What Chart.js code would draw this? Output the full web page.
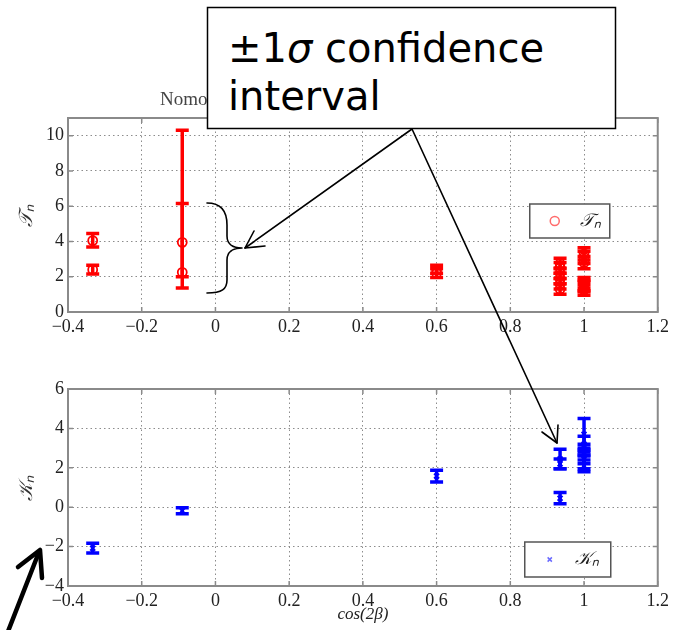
<!DOCTYPE html>
<html>
<head>
<meta charset="utf-8">
<script src="https://cdn.jsdelivr.net/npm/chart.js@4.4.0/dist/chart.umd.min.js"></script>
<style>
  body { margin: 0; background: #fff; }
  #wrap { position: relative; width: 673px; height: 630px; overflow: hidden; }
  #top, #bottom { position: absolute; left: 0; }
  #top { top: 80px; }
  #bottom { top: 345px; }
  #note { position: absolute; left: 0; top: 0; }
</style>
</head>
<body>
<div id="wrap">
  <canvas id="top" width="673" height="265"></canvas>
  <canvas id="bottom" width="673" height="285"></canvas>
  <svg id="note" width="673" height="630" viewBox="0 0 673 630">
    <g fill="none" stroke="#000" stroke-width="1.6" stroke-linecap="round" stroke-linejoin="round">
      <path d="M207,203 C222,203 227,212 227,225 L227,236 C227,244 233,248 242,248 C233,248 227,252 227,260 L227,280 C227,289 222,293 207,293"/>
      <line x1="412" y1="129" x2="245" y2="248"/>
      <polyline points="254,231 245,248 265,246"/>
      <line x1="412" y1="129" x2="557" y2="443"/>
      <polyline points="542,432 557,443 558,425"/>
    </g>
    <g fill="none" stroke="#000" stroke-width="4.5" stroke-linecap="round" stroke-linejoin="round">
      <line x1="7" y1="634" x2="39" y2="552"/>
      <polyline points="18,567 40,550 42,578"/>
    </g>
    <rect x="207.5" y="7.5" width="408" height="121" fill="#fff" stroke="#000" stroke-width="1.5"/>
    <text font-family="DejaVu Sans" font-size="40" fill="#000">
      <tspan x="228" y="62">±1<tspan font-style="italic">σ</tspan> confidence</tspan>
      <tspan x="228" y="110">interval</tspan>
    </text>
  </svg>
</div>
<script>
// ticks
const xTicks = [-0.4, -0.2, 0, 0.2, 0.4, 0.6, 0.8, 1, 1.2];
const tTicks = [0, 2, 4, 6, 8, 10];
const kTicks = [-4, -2, 0, 2, 4, 6];

// T_n with its +-1 sigma interval (low / high)
const tX    = [-0.333, -0.333, -0.09, -0.09, 0.6, 0.6,
               0.935, 0.935, 0.935, 0.935, 0.935, 0.935,
               1, 1, 1, 1, 1, 1, 1];
const tMean = [4.05, 2.4, 3.95, 2.25, 2.2, 2.4,
               1.3, 1.6, 1.9, 2.2, 2.5, 2.75,
               2.8, 3.1, 3.3, 1.25, 1.45, 1.65, 1.5];
const tLow  = [3.68, 2.15, 2.0, 1.36, 1.95, 2.2,
               1.0, 1.3, 1.6, 1.9, 2.2, 2.45,
               2.45, 2.75, 2.95, 0.95, 1.15, 1.35, 1.2];
const tHigh = [4.45, 2.65, 10.3, 6.15, 2.45, 2.65,
               1.6, 1.9, 2.2, 2.5, 2.8, 3.05,
               3.15, 3.45, 3.65, 1.55, 1.75, 1.95, 1.8];

// K_n with its +-1 sigma interval
const kX    = [-0.333, -0.09, 0.6, 0.935, 0.935, 0.935, 1, 1, 1, 1, 1, 1];
const kMean = [-2.08, -0.18, 1.58, 0.45, 2.2, 2.45, 3.7, 3.2, 2.9, 2.6, 2.3, 2.1];
const kLow  = [-2.33, -0.33, 1.28, 0.17, 1.95, 1.95, 2.9, 2.8, 2.6, 2.2, 1.95, 1.8];
const kHigh = [-1.83, -0.03, 1.88, 0.74, 2.45, 2.94, 4.5, 3.6, 3.2, 3.0, 2.65, 2.4];

const serif = 'Liberation Serif';

const errorBars = {
  id: 'errorBars',
  beforeDatasetsDraw(chart) {
    const {ctx, chartArea: a, scales: {x, y}} = chart;
    ctx.save();
    ctx.beginPath();
    ctx.rect(a.left, a.top, a.width, a.height);
    ctx.clip();
    chart.data.datasets.forEach(ds => {
      ctx.strokeStyle = ds.borderColor;
      ctx.lineWidth = 3.5;
      ds.data.forEach((p, i) => {
        const px = x.getPixelForValue(p.x);
        const lo = y.getPixelForValue(ds.low[i]);
        const hi = y.getPixelForValue(ds.high[i]);
        ctx.beginPath();
        ctx.moveTo(px, lo); ctx.lineTo(px, hi);
        ctx.moveTo(px - 6.5, lo); ctx.lineTo(px + 6.5, lo);
        ctx.moveTo(px - 6.5, hi); ctx.lineTo(px + 6.5, hi);
        ctx.stroke();
      });
    });
    ctx.restore();
  }
};

// matlab style box with inner tick marks
const frame = {
  id: 'frame',
  beforeDatasetsDraw(chart) {
    const {ctx, chartArea: a, scales: {x, y}} = chart;
    ctx.save();
    ctx.strokeStyle = '#8a8a8a';
    ctx.lineWidth = 2;
    ctx.strokeRect(a.left, a.top, a.width, a.height);
    ctx.lineWidth = 1.5;
    ctx.beginPath();
    x.ticks.forEach(t => {
      const px = x.getPixelForValue(t.value);
      ctx.moveTo(px, a.bottom); ctx.lineTo(px, a.bottom - 5);
      ctx.moveTo(px, a.top); ctx.lineTo(px, a.top + 5);
    });
    y.ticks.forEach(t => {
      const py = y.getPixelForValue(t.value);
      ctx.moveTo(a.left, py); ctx.lineTo(a.left + 5, py);
      ctx.moveTo(a.right, py); ctx.lineTo(a.right - 5, py);
    });
    ctx.stroke();
    ctx.restore();
  }
};

const boxLegend = {
  id: 'boxLegend',
  afterDatasetsDraw(chart, args, opts) {
    if (!opts.w) return;
    const {ctx, chartArea: a} = chart;
    const ds = chart.data.datasets[0];
    const bx = a.right - opts.right - opts.w;
    const by = opts.top != null ? a.top + opts.top : a.bottom - opts.bottom - opts.h;
    ctx.save();
    ctx.fillStyle = '#fff';
    ctx.fillRect(bx, by, opts.w, opts.h);
    ctx.strokeStyle = '#555';
    ctx.lineWidth = 1.5;
    ctx.strokeRect(bx, by, opts.w, opts.h);
    ctx.strokeStyle = opts.markColor;
    ctx.fillStyle = 'rgba(0,0,0,0)';
    Chart.helpers.drawPoint(ctx, {pointStyle: ds.pointStyle, radius: opts.markRadius, borderWidth: 1, rotation: 0},
      bx + 25, by + opts.h / 2);
    ctx.fillStyle = '#222';
    ctx.font = 'italic 18px ' + serif;
    ctx.textBaseline = 'middle';
    ctx.fillText(ds.label, bx + 50, by + opts.h / 2);
    ctx.restore();
  }
};

const partTitle = {
  id: 'partTitle',
  afterDraw(chart, args, opts) {
    if (!opts.text) return;
    const {ctx, chartArea: a} = chart;
    ctx.save();
    ctx.fillStyle = '#444';
    ctx.font = '19px ' + serif;
    ctx.textBaseline = 'alphabetic';
    ctx.fillText(opts.text, a.left + 92, a.top - 13);
    ctx.restore();
  }
};

function fmt(v) {
  const r = Math.round(v * 10) / 10;
  return String(r).replace('-', '\u2212');
}

function makeOptions(yMin, yMax, yTicks, yTitle, xTitle, xHeight, padTop, legend, title) {
  return {
    responsive: false,
    animation: false,
    events: [],
    layout: {padding: {left: 0, right: 13, top: padTop, bottom: 0}},
    plugins: {
      legend: {display: false},
      tooltip: {enabled: false},
      boxLegend: legend,
      partTitle: {text: title}
    },
    scales: {
      x: {
        type: 'linear',
        min: -0.4,
        max: 1.2,
        afterBuildTicks: s => { s.ticks = xTicks.map(v => ({value: v})); },
        afterFit: s => { s.height = xHeight; },
        grid: {color: '#8c8c8c', lineWidth: 1, drawTicks: false},
        border: {display: false, dash: [1.5, 3]},
        ticks: {callback: fmt, padding: 4, maxRotation: 0, color: '#222', font: {family: serif, size: 18}},
        title: {display: !!xTitle, text: xTitle, color: '#222', padding: {top: 0, bottom: 5},
                font: {family: serif, size: 17, style: 'italic'}}
      },
      y: {
        type: 'linear',
        min: yMin,
        max: yMax,
        afterBuildTicks: s => { s.ticks = yTicks.map(v => ({value: v})); },
        afterFit: s => { s.width = 68; },
        grid: {color: '#8c8c8c', lineWidth: 1, drawTicks: false},
        border: {display: false, dash: [1.5, 3]},
        ticks: {callback: fmt, padding: 4, color: '#222', font: {family: serif, size: 18}},
        title: {display: true, text: yTitle, color: '#333', padding: {top: 16, bottom: 0},
                font: {family: serif, size: 19, style: 'italic'}}
      }
    }
  };
}

new Chart(document.getElementById('top'), {
  type: 'scatter',
  data: {
    datasets: [{
      label: '𝒯ₙ',
      data: tX.map((x, i) => ({x: x, y: tMean[i]})),
      low: tLow,
      high: tHigh,
      borderColor: '#ff0000',
      backgroundColor: 'rgba(0,0,0,0)',
      pointStyle: 'circle',
      pointRadius: 4.5,
      pointBorderWidth: 1.8
    }]
  },
  options: makeOptions(0, 11, tTicks, '𝒯ₙ', '', 33, 38,
    {w: 80, h: 34, right: 48, top: 86, markColor: '#ff6b6b', markRadius: 4.5}, 'Nomo'),
  plugins: [frame, errorBars, boxLegend, partTitle]
});

new Chart(document.getElementById('bottom'), {
  type: 'scatter',
  data: {
    datasets: [{
      label: '𝒦ₙ',
      data: kX.map((x, i) => ({x: x, y: kMean[i]})),
      low: kLow,
      high: kHigh,
      borderColor: '#0000ff',
      backgroundColor: '#0000ff',
      pointStyle: 'crossRot',
      pointRadius: 3.5,
      pointBorderWidth: 2
    }]
  },
  options: makeOptions(-4, 6, kTicks, '𝒦ₙ', 'cos(2β)', 44, 44,
    {w: 86, h: 35, right: 47, bottom: 9, markColor: '#6b6bff', markRadius: 3}, ''),
  plugins: [frame, errorBars, boxLegend, partTitle]
});
</script>
</body>
</html>
